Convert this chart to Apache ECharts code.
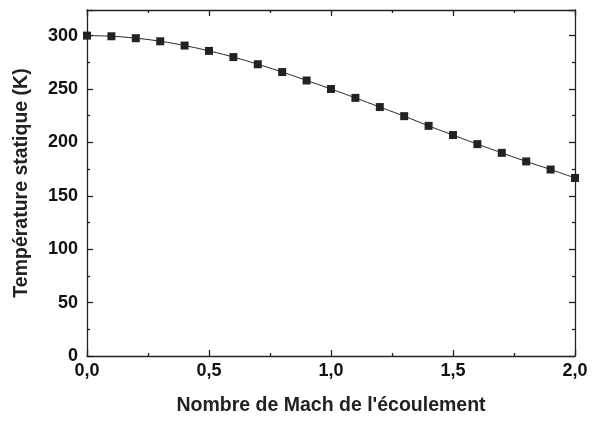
<!DOCTYPE html>
<html><head><meta charset="utf-8">
<script src="https://cdn.jsdelivr.net/npm/echarts@6/dist/echarts.min.js"></script>
<style>html,body{margin:0;padding:0;background:#fff}#c{width:593px;height:421px}</style>
</head><body><div id="c"></div>
<script>
const mach = [0.0,0.1,0.2,0.3,0.4,0.5,0.6,0.7,0.8,0.9,1.0,1.1,1.2,1.3,1.4,1.5,1.6,1.7,1.8,1.9,2.0];
const temperature = [300,299.4,297.6,294.7,290.7,285.7,279.9,273.2,265.9,258.0,250.0,241.7,233.1,224.6,215.5,206.9,198.4,190.2,182.2,174.6,166.7];
const xTitle = "Nombre de Mach de l'écoulement";
const yTitle = "Température statique (K)";
const F = 'Liberation Sans, Arial, sans-serif';
const chart = echarts.init(document.getElementById('c'));
const lineS = {color:'#222', width:1.3};
const baseX = {type:'value', min:0, max:2, interval:0.5,
  axisLine:{show:true, onZero:false, lineStyle:lineS},
  axisTick:{show:true, inside:true, length:6, lineStyle:lineS},
  minorTick:{show:true, splitNumber:2, length:3, lineStyle:lineS},
  splitLine:{show:false}};
const baseY = {type:'value', min:0, max:324, interval:50,
  axisLine:{show:true, onZero:false, lineStyle:lineS},
  axisTick:{show:true, inside:true, length:6, lineStyle:lineS},
  minorTick:{show:true, splitNumber:2, length:3, lineStyle:lineS},
  splitLine:{show:false}};
chart.setOption({
  animation:false,
  grid:{left:87, top:10, right:18, bottom:61},
  xAxis:[
    Object.assign({}, baseX, {position:'bottom', name:xTitle, nameLocation:'middle', nameGap:40,
      nameTextStyle:{fontFamily:F, fontWeight:'bold', fontSize:19.5, color:'#222'},
      axisLabel:{fontFamily:F, fontWeight:'bold', fontSize:18, color:'#111', margin:6,
        formatter:v=>v.toFixed(1).replace('.',',')}}),
    Object.assign({}, baseX, {position:'top', axisLabel:{show:false}})
  ],
  yAxis:[
    Object.assign({}, baseY, {position:'left', name:yTitle, nameLocation:'middle', nameGap:55,
      nameTextStyle:{fontFamily:F, fontWeight:'bold', fontSize:19.5, color:'#222'},
      axisLabel:{fontFamily:F, fontWeight:'bold', fontSize:18, color:'#111', margin:9, showMaxLabel:false}}),
    Object.assign({}, baseY, {position:'right', axisLabel:{show:false}})
  ],
  series:[{type:'line', xAxisIndex:0, yAxisIndex:0,
    data: mach.map((m,i)=>[m, temperature[i]]),
    symbol:'rect', symbolSize:8, smooth:true,
    lineStyle:{color:'#222', width:1},
    itemStyle:{color:'#222'}}]
});
</script></body></html>
